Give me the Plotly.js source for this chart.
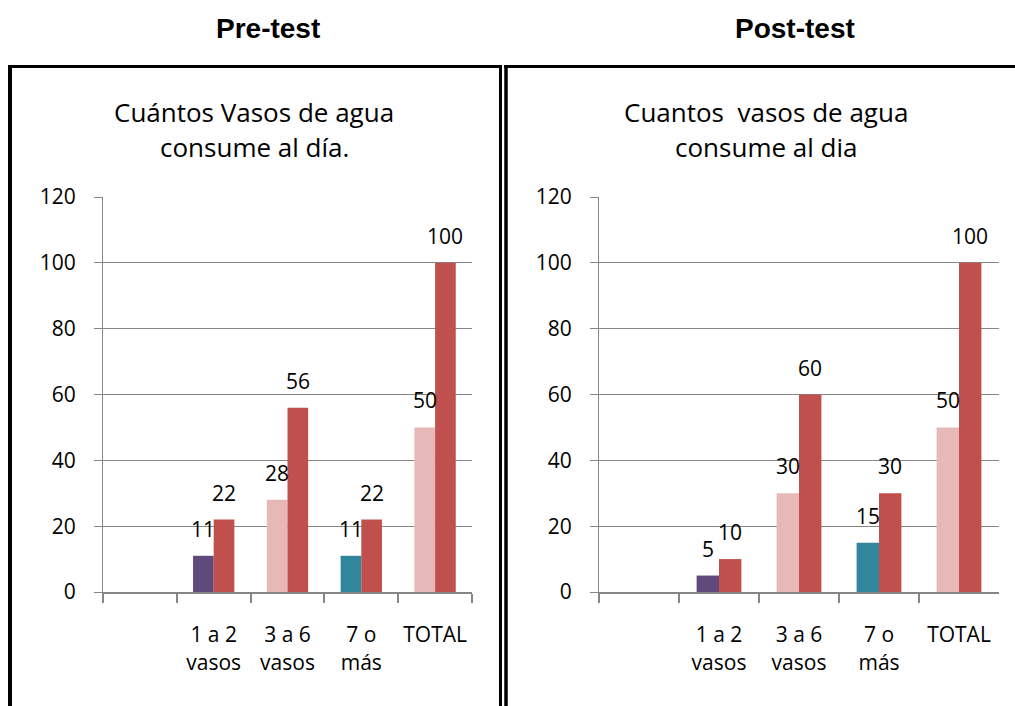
<!DOCTYPE html>
<html>
<head>
<meta charset="utf-8">
<script src="https://cdn.plot.ly/plotly-3.0.1.min.js"></script>
<style>html,body{margin:0;padding:0;background:#fff;}#chart{width:1015px;height:706px;}</style>
</head>
<body>
<div id="chart"></div>
<script>
// ---- data ----
var categories = [" ", "1 a 2<br>vasos", "3 a 6<br>vasos", "7 o<br>más", "TOTAL"];
var preFirst  = [null, 11, 28, 11, 50];
var preSecond = [null, 22, 56, 22, 100];
var postFirst  = [null, 5, 30, 15, 50];
var postSecond = [null, 10, 60, 30, 100];
var firstColors = ["#604A7B", "#604A7B", "#E6B9B8", "#31859C", "#E6B9B8"];
var secondColor = "#C0504D";
var panelHeaders = ["Pre-test", "Post-test"];
var chartTitles = [["Cuántos Vasos de agua", "consume al día."], ["Cuantos\u00a0 vasos de agua", "consume al dia"]];
var yTicks = [0, 20, 40, 60, 80, 100, 120];

// ---- layout helpers ----
var W = 1015, H = 706;
function X(px){ return px / W; }
function Y(py){ return 1 - py / H; }
var FONT = "Open Sans";
var grey = "#868686";

var traces = [
  {type:"bar", x:categories, y:preFirst, marker:{color:firstColors}, xaxis:"x", yaxis:"y", hoverinfo:"none"},
  {type:"bar", x:categories, y:preSecond, marker:{color:secondColor}, xaxis:"x", yaxis:"y", hoverinfo:"none"},
  {type:"bar", x:categories, y:postFirst, marker:{color:firstColors}, xaxis:"x2", yaxis:"y2", hoverinfo:"none"},
  {type:"bar", x:categories, y:postSecond, marker:{color:secondColor}, xaxis:"x2", yaxis:"y2", hoverinfo:"none"}
];

function xAxis(dom, anchor){
  return {domain:dom, anchor:anchor, type:"category", showline:true, linecolor:grey, linewidth:2,
    ticks:"outside", tickson:"boundaries", ticklen:9, tickcolor:grey, tickwidth:2,
    showgrid:false, zeroline:false, fixedrange:true, ticklabelstandoff:23,
    tickfont:{family:FONT, size:21, color:"#000"}};
}
function yAxis(dom, anchor){
  return {domain:dom, anchor:anchor, range:[0,120], tickvals:yTicks, showline:true, linecolor:grey, linewidth:1,
    ticks:"outside", ticklen:8, tickcolor:grey, showgrid:true, gridcolor:grey, gridwidth:1,
    zeroline:false, fixedrange:true, ticklabelstandoff:14,
    tickfont:{family:FONT, size:21, color:"#000"}};
}

var annotations = [];
// panel headers
[[268, panelHeaders[0]], [795, panelHeaders[1]]].forEach(function(h){
  annotations.push({xref:"paper", yref:"paper", x:X(h[0]), y:Y(28), text:h[1], showarrow:false,
    xanchor:"center", yanchor:"middle", font:{family:"Liberation Sans, Arial", size:28, color:"#000", weight:"bold"}});
});
// chart titles
[[254, chartTitles[0]], [766, chartTitles[1]]].forEach(function(t){
  annotations.push({xref:"paper", yref:"paper", x:X(t[0]), y:Y(112), text:t[1][0], showarrow:false,
    xanchor:"center", yanchor:"middle", font:{family:FONT, size:26, color:"#000"}});
  annotations.push({xref:"paper", yref:"paper", x:X(t[0]), y:Y(147), text:t[1][1], showarrow:false,
    xanchor:"center", yanchor:"middle", font:{family:FONT, size:26, color:"#000"}});
});
// data labels
function addLabels(vals, xa, ya, shift){
  for (var i = 0; i < categories.length; i++){
    if (vals[i] === null) continue;
    annotations.push({xref:xa, yref:ya, x:categories[i], y:vals[i], text:String(vals[i]), showarrow:false,
      xshift:shift, yshift:27, xanchor:"center", yanchor:"middle", font:{family:FONT, size:21, color:"#000"}});
  }
}
addLabels(preFirst, "x", "y", -10.3);
addLabels(preSecond, "x", "y", 10.3);
addLabels(postFirst, "x2", "y2", -11.2);
addLabels(postSecond, "x2", "y2", 11.2);

// panel borders
var shapes = [
  {type:"line", xref:"paper", yref:"paper", x0:X(8), x1:X(502), y0:Y(66.5), y1:Y(66.5), line:{color:"#000", width:3}},
  {type:"line", xref:"paper", yref:"paper", x0:X(10), x1:X(10), y0:Y(65), y1:Y(706), line:{color:"#000", width:4}},
  {type:"line", xref:"paper", yref:"paper", x0:X(500.5), x1:X(500.5), y0:Y(65), y1:Y(706), line:{color:"#000", width:3}},
  {type:"line", xref:"paper", yref:"paper", x0:X(506), x1:X(506), y0:Y(65), y1:Y(706), line:{color:"#000", width:3.5}},
  {type:"line", xref:"paper", yref:"paper", x0:X(504), x1:X(1015), y0:Y(66.5), y1:Y(66.5), line:{color:"#000", width:3}}
];

var layout = {
  width:W, height:H, margin:{l:0, r:0, t:0, b:0}, paper_bgcolor:"#fff", plot_bgcolor:"#fff",
  showlegend:false, barmode:"group", bargap:0.44, bargroupgap:0,
  xaxis: xAxis([X(103), X(472)], "y"),
  yaxis: yAxis([Y(592), Y(197)], "x"),
  xaxis2: xAxis([X(599), X(999)], "y2"),
  yaxis2: yAxis([Y(592), Y(197)], "x2"),
  annotations: annotations, shapes: shapes
};

Plotly.newPlot("chart", traces, layout, {staticPlot:true, displayModeBar:false});
</script>
</body>
</html>
